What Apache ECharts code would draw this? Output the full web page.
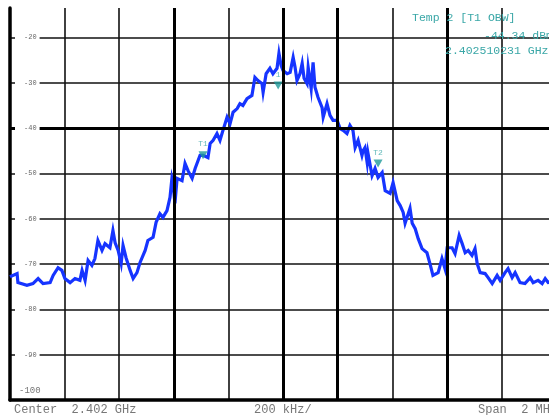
<!DOCTYPE html>
<html>
<head>
<meta charset="utf-8">
<script src="https://cdn.jsdelivr.net/npm/echarts@6/dist/echarts.min.js"></script>
<style>
html,body{margin:0;padding:0;background:#fff;}
#chart{width:549px;height:415px;}
</style>
</head>
<body>
<div id="chart"></div>
<script>
// Frequency offset from center (kHz) and level (dBm)
const freqKHz = [-1000,-993,-974,-971,-938,-916,-897,-879,-853,-842,-824,-810,-799,-780,-762,-744,-736,-725,-714,-700,-689,-678,-663,-652,-634,-623,-615,-604,-593,-586,-575,-560,-549,-535,-524,-505,-495,-476,-465,-451,-440,-425,-414,-407,-403,-396,-388,-370,-359,-348,-333,-322,-304,-293,-275,-267,-256,-242,-231,-220,-205,-194,-183,-168,-158,-147,-132,-114,-103,-92,-77,-73,-62,-48,-37,-22,-15,-7,0,15,26,37,44,51,62,70,77,88,92,103,110,117,128,143,147,161,172,183,198,209,220,234,245,256,264,275,282,289,293,300,308,311,326,337,348,363,374,392,403,418,429,440,447,465,473,484,495,509,527,538,549,568,582,593,601,619,630,645,656,667,678,692,703,711,722,740,751,766,784,795,813,824,839,850,868,886,905,916,934,949,960,971,1000];
const levelDbm = [-72.8,-72.5,-72.1,-74.1,-74.7,-74.3,-73.2,-74.3,-74.1,-72.5,-70.8,-71.4,-73.2,-74.1,-73.2,-73.6,-71.4,-73.6,-69.2,-70.3,-68.8,-64.8,-67,-65.5,-66.4,-62.6,-65.3,-67,-69.9,-65.9,-68.6,-71.4,-73.2,-71.9,-69.7,-67,-64.8,-64.1,-60.8,-58.9,-59.7,-58.2,-55.3,-51.1,-52.2,-56.6,-51.1,-51.6,-47.8,-49.4,-51.1,-48.9,-46,-46,-46.5,-43.4,-42.7,-41.2,-42.7,-40.5,-37.6,-39,-36.5,-35.7,-34.6,-35,-33.5,-32.8,-28.8,-29.5,-30.2,-32.1,-28,-26.8,-28,-26.8,-23.5,-26.2,-27.3,-28,-27.7,-24.4,-26.6,-29.5,-28,-25.7,-29,-30.2,-26.6,-31.3,-25.5,-31,-33.2,-35.5,-37.6,-34.6,-37.2,-38.3,-38.3,-40.1,-40.5,-41.2,-39.4,-40.5,-44.3,-42.7,-42.3,-46,-45,-44.3,-47.6,-45.5,-50.5,-48.9,-50.9,-49.8,-53.8,-54.4,-52,-56,-57.1,-58.6,-61,-57.7,-61,-62.2,-64.4,-66.6,-67.5,-69.9,-72.5,-71.9,-68.8,-71,-66.4,-66.4,-67.7,-63.7,-65.5,-67.5,-67,-68.1,-66.6,-69.9,-71.9,-72.1,-73,-74.3,-72.5,-73.6,-71.9,-71,-73,-71.9,-74.1,-74.3,-73,-74.1,-73.6,-74.3,-73.2,-74.1,-73.8];

// Markers
const markerNames = ['1','T1','T2'];
const markerFreqKHz = [-18,-293,348];
const markerLevel = [-30.6,-46,-47.8];

// Axis setup (visible window of the 2 MHz span / 10 dB per division screen)
const xMinKHz = -1000, xMaxKHz = 974, xStepKHz = 200;
const yMin = -100, yMax = -13.5, yStep = 10;
const emphLinesX = [-400, 0, 200, 600];
const emphLinesY = [-40];

// Text annotations
const bottomLeftText = 'Center  2.402 GHz';
const bottomMidText = '200 kHz/';
const bottomRightText = 'Span  2 MHz';
const infoLines = ['Temp 2 [T1 OBW]', '-44.34 dBm', '2.402510231 GHz'];

const traceData = freqKHz.map((f,i)=>[f, levelDbm[i]]);
const markerData = markerFreqKHz.map((f,i)=>({value:[f, markerLevel[i]], name: markerNames[i]}));

const chart = echarts.init(document.getElementById('chart'), null, {renderer:'canvas'});
const mono = 'Liberation Mono';
const teal = '#3aa7a7';

const option = {
  animation: false,
  backgroundColor: '#fff',
  grid: {left: 10, right: 0, top: 8, bottom: 15},
  xAxis: {
    type: 'value', min: xMinKHz, max: xMaxKHz, interval: xStepKHz,
    axisLine: {show: true, onZero: false, lineStyle: {color: '#000', width: 3.5}},
    axisTick: {show: false}, axisLabel: {show: false},
    splitLine: {show: true, showMaxLine: false, lineStyle: {color: '#111', width: 1.6}}
  },
  yAxis: [{
    type: 'value', min: yMin, max: yMax, interval: yStep, position: 'left',
    axisLine: {show: true, onZero: false, lineStyle: {color: '#000', width: 3.5}},
    axisTick: {show: false}, axisLabel: {show: false},
    splitLine: {show: true, showMaxLine: false, lineStyle: {color: '#111', width: 1.6}}
  },{
    type: 'value', min: yMin, max: yMax, interval: yStep, position: 'left', offset: 0, z: 10,
    axisLine: {show: false, onZero: false}, axisTick: {show: false}, splitLine: {show: false},
    axisLabel: {
      show: true, inside: true, margin: 5, showMaxLabel: false,
      formatter: function(v){
        if (v === yMin) return '{b|' + v + '}';
        if (v > -15) return '';
        return '{a|' + v + '}';
      },
      rich: {
        a: {fontFamily: mono, fontSize: 7, color: '#666', backgroundColor: '#fff', padding: [2,3,2,9]},
        b: {fontFamily: mono, fontSize: 9, color: '#777', padding: [0,0,19,4]}
      }
    }
  }],
  series: [{
    type: 'line', data: [], z: 1, silent: true,
    markLine: {
      silent: true, symbol: ['none','none'], animation: false,
      label: {show: false},
      lineStyle: {color: '#000', width: 3, type: 'solid'},
      data: emphLinesX.map(v=>({xAxis: v})).concat(emphLinesY.map(v=>({yAxis: v})))
    }
  },{
    type: 'line', data: traceData, z: 3, showSymbol: false, symbol: 'none',
    lineStyle: {color: '#1634ff', width: 3.2, join: 'miter'},
    clip: true
  },{
    type: 'scatter', data: markerData, z: 4,
    symbol: 'triangle', symbolRotate: 180, symbolSize: [9,8],
    itemStyle: {color: '#1f9a9a'},
    label: {show: true, position: 'top', distance: 3, formatter: p=>p.name, fontFamily: mono, fontSize: 8, color: teal}
  }],
  graphic: [
    {type:'text', left: 14, top: 404, style:{text: bottomLeftText, font: '12px "Liberation Mono"', fill: '#777'}},
    {type:'text', left: 254, top: 404, style:{text: bottomMidText, font: '12px "Liberation Mono"', fill: '#777'}},
    {type:'text', left: 478, top: 404, style:{text: bottomRightText, font: '12px "Liberation Mono"', fill: '#777'}},
    {type:'text', left: 412, top: 12, z: 20, style:{text: infoLines[0], font: '11.5px "Liberation Mono"', fill: teal}},
    {type:'text', left: 484, top: 30, z: 20, style:{text: infoLines[1], font: '11.5px "Liberation Mono"', fill: teal}},
    {type:'text', left: 445, top: 45, z: 20, style:{text: infoLines[2], font: '11.5px "Liberation Mono"', fill: teal}}
  ]
};
chart.setOption(option);
</script>
</body>
</html>
